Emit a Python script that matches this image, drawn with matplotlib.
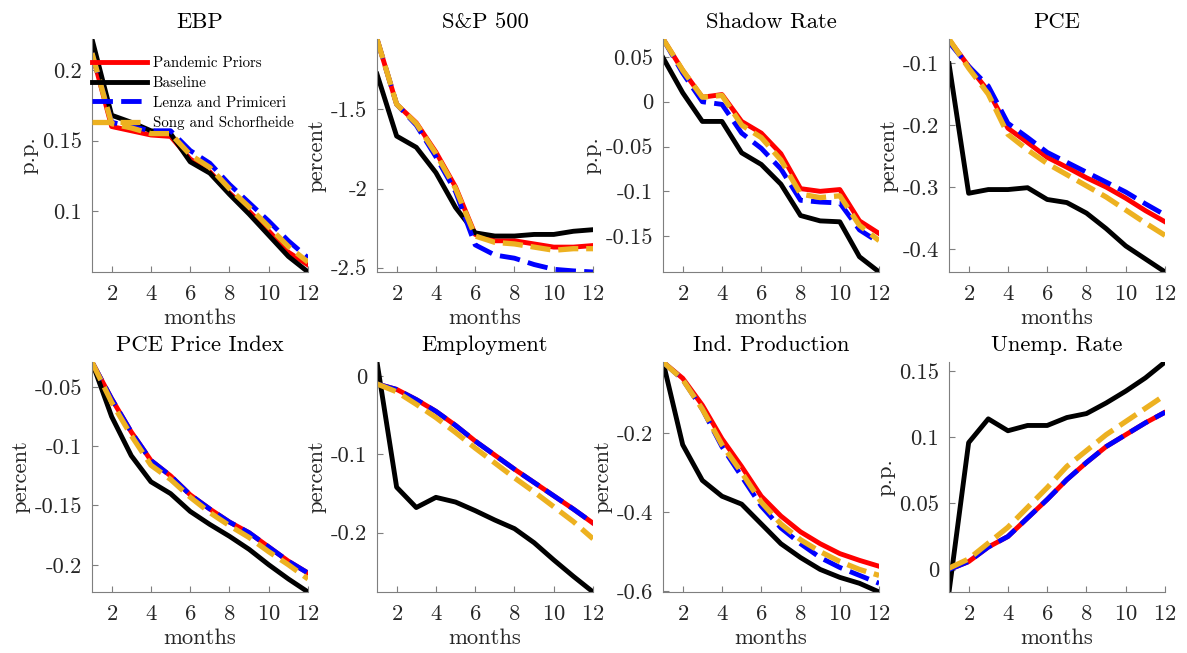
import numpy as np
import matplotlib
matplotlib.use('Agg')
import matplotlib.pyplot as plt
from matplotlib.ticker import MultipleLocator, FuncFormatter

# 横轴:月份
months = np.arange(1, 13)

titles = ['EBP', 'S&P 500', 'Shadow Rate', 'PCE',
          'PCE Price Index', 'Employment', 'Ind. Production', 'Unemp. Rate']
ylabels = ['p.p.', 'percent', 'p.p.', 'percent',
           'percent', 'percent', 'percent', 'p.p.']
ytick_steps = [0.05, 0.5, 0.05, 0.1, 0.05, 0.1, 0.2, 0.05]

# Pandemic Priors
pandemic = [
    [0.212, 0.160, 0.157, 0.154, 0.153, 0.137, 0.128, 0.113, 0.100, 0.086, 0.071, 0.062],
    [-1.056, -1.468, -1.585, -1.77, -1.99, -2.29, -2.33, -2.33, -2.35, -2.37, -2.37, -2.36],
    [0.070, 0.035, 0.005, 0.008, -0.022, -0.035, -0.058, -0.097, -0.100, -0.098, -0.133, -0.147],
    [-0.062, -0.105, -0.145, -0.205, -0.228, -0.252, -0.268, -0.285, -0.300, -0.318, -0.338, -0.356],
    [-0.029, -0.060, -0.088, -0.112, -0.125, -0.141, -0.153, -0.164, -0.173, -0.185, -0.197, -0.207],
    [-0.010, -0.017, -0.030, -0.045, -0.063, -0.083, -0.101, -0.119, -0.136, -0.153, -0.170, -0.188],
    [-0.021, -0.062, -0.13, -0.215, -0.285, -0.36, -0.41, -0.45, -0.48, -0.505, -0.522, -0.537],
    [0.000, 0.006, 0.017, 0.025, 0.039, 0.053, 0.068, 0.081, 0.093, 0.102, 0.111, 0.119],
]
# Baseline
baseline = [
    [0.222, 0.168, 0.163, 0.157, 0.155, 0.135, 0.127, 0.112, 0.098, 0.083, 0.068, 0.057],
    [-1.278, -1.669, -1.74, -1.90, -2.12, -2.28, -2.30, -2.30, -2.29, -2.29, -2.27, -2.26],
    [0.049, 0.010, -0.022, -0.022, -0.057, -0.070, -0.092, -0.127, -0.133, -0.134, -0.173, -0.190],
    [-0.101, -0.310, -0.304, -0.304, -0.301, -0.320, -0.325, -0.342, -0.367, -0.395, -0.416, -0.437],
    [-0.029, -0.075, -0.108, -0.130, -0.140, -0.155, -0.166, -0.176, -0.187, -0.200, -0.212, -0.223],
    [0.018, -0.142, -0.168, -0.155, -0.161, -0.172, -0.184, -0.195, -0.213, -0.235, -0.256, -0.276],
    [-0.021, -0.23, -0.32, -0.36, -0.38, -0.43, -0.48, -0.515, -0.545, -0.565, -0.58, -0.602],
    [-0.017, 0.096, 0.114, 0.105, 0.109, 0.109, 0.115, 0.118, 0.126, 0.135, 0.145, 0.157],
]
# Lenza and Primiceri
lenza = [
    [0.212, 0.163, 0.160, 0.157, 0.157, 0.143, 0.134, 0.119, 0.106, 0.093, 0.079, 0.067],
    [-1.056, -1.468, -1.60, -1.80, -2.02, -2.356, -2.42, -2.44, -2.48, -2.51, -2.52, -2.527],
    [0.070, 0.032, 0.000, -0.003, -0.035, -0.052, -0.075, -0.110, -0.112, -0.113, -0.143, -0.157],
    [-0.066, -0.105, -0.137, -0.197, -0.220, -0.244, -0.260, -0.276, -0.292, -0.308, -0.327, -0.345],
    [-0.029, -0.060, -0.088, -0.112, -0.125, -0.141, -0.153, -0.164, -0.173, -0.185, -0.197, -0.207],
    [-0.010, -0.017, -0.030, -0.045, -0.063, -0.083, -0.101, -0.119, -0.136, -0.153, -0.170, -0.188],
    [-0.021, -0.065, -0.14, -0.235, -0.31, -0.385, -0.44, -0.48, -0.515, -0.54, -0.56, -0.58],
    [0.000, 0.006, 0.017, 0.025, 0.039, 0.053, 0.068, 0.081, 0.093, 0.102, 0.111, 0.119],
]
# Song and Schorfheide
song = [
    [0.212, 0.162, 0.159, 0.155, 0.155, 0.140, 0.131, 0.116, 0.103, 0.089, 0.075, 0.064],
    [-1.056, -1.468, -1.59, -1.78, -2.00, -2.30, -2.34, -2.35, -2.37, -2.39, -2.38, -2.38],
    [0.070, 0.035, 0.005, 0.007, -0.026, -0.040, -0.065, -0.103, -0.107, -0.105, -0.138, -0.155],
    [-0.061, -0.108, -0.150, -0.215, -0.240, -0.262, -0.280, -0.298, -0.316, -0.337, -0.358, -0.378],
    [-0.029, -0.063, -0.091, -0.116, -0.128, -0.143, -0.156, -0.167, -0.177, -0.189, -0.200, -0.212],
    [-0.010, -0.020, -0.036, -0.053, -0.072, -0.092, -0.111, -0.130, -0.148, -0.167, -0.186, -0.208],
    [-0.021, -0.065, -0.14, -0.23, -0.30, -0.375, -0.43, -0.47, -0.50, -0.525, -0.545, -0.56],
    [0.001, 0.008, 0.020, 0.032, 0.047, 0.062, 0.078, 0.090, 0.102, 0.112, 0.122, 0.132],
]

plt.rcParams['font.family'] = ['cmr10', 'DejaVu Serif']
plt.rcParams['mathtext.fontset'] = 'cm'
plt.rcParams['axes.unicode_minus'] = False
plt.rcParams['axes.formatter.use_mathtext'] = True

fig = plt.figure(figsize=(11.87, 6.53), dpi=100)

lefts = [0.0775, 0.3176, 0.5586, 0.7995]
bottoms = [0.5835, 0.0934]
heights = [0.3568, 0.3522]
width = 0.182
gray = '#262626'
orange = '#EDB120'

fmt = FuncFormatter(lambda v, p: '%g' % round(v, 6))

for k in range(8):
    r, c = divmod(k, 4)
    ax = fig.add_axes([lefts[c], bottoms[r], width, heights[r]])
    ax.plot(months, pandemic[k], color='red', lw=3.5, label='Pandemic Priors')
    ax.plot(months, baseline[k], color='black', lw=3.5, label='Baseline')
    ax.plot(months, lenza[k], color='blue', lw=3.5, ls=(0, (4.2, 1.7)),
            label='Lenza and Primiceri')
    ax.plot(months, song[k], color=orange, lw=3.8, ls=(0, (3.8, 1.5)),
            label='Song and Schorfheide')
    allv = np.concatenate([pandemic[k], baseline[k], lenza[k], song[k]])
    ax.set_xlim(1, 12)
    ax.set_ylim(allv.min(), allv.max())
    ax.set_xticks([2, 4, 6, 8, 10, 12])
    ax.yaxis.set_major_locator(MultipleLocator(ytick_steps[k]))
    ax.yaxis.set_major_formatter(fmt)
    for s in ['top', 'right']:
        ax.spines[s].set_visible(False)
    for s in ['left', 'bottom']:
        ax.spines[s].set_color('#7f7f7f')
        ax.spines[s].set_linewidth(0.8)
    ax.tick_params(direction='in', length=4, width=0.8, color='#7f7f7f',
                   labelsize=16.3, labelcolor=gray, pad=7)
    ax.tick_params(axis='x', pad=9)
    ax.set_title(titles[k], fontsize=16.3, color='black', pad=8)
    ax.set_xlabel('months', fontsize=16.3, color=gray, labelpad=3)
    ax.set_ylabel(ylabels[k], fontsize=16.3, color=gray, labelpad=3)
    if k == 0:
        ax.legend(loc='upper left', bbox_to_anchor=(0.0, 0.925), frameon=False,
                  fontsize=10.8, handlelength=3.7, handletextpad=0.35,
                  labelspacing=0.4, borderpad=0, borderaxespad=0)

fig.savefig('out.png', dpi=100)
